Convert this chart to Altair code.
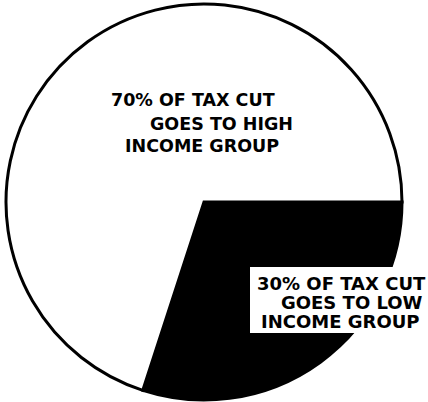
import math
import altair as alt
import pandas as pd

# Data
groups = ["Low income group", "High income group"]
shares = [30, 70]
slice_order = [0, 1]
slice_colors = ["#000000", "#ffffff"]

high_label = ["70% OF TAX CUT", "GOES TO HIGH", "INCOME GROUP"]
low_label = ["30% OF TAX CUT", "GOES TO LOW", "INCOME GROUP"]

df = pd.DataFrame({"group": groups, "share": shares, "order": slice_order})

W, H = 428, 402
CX, CY, R = 204, 202, 198
FONT = "DejaVu Sans"

pie = alt.Chart(df).mark_arc(
    outerRadius=R, stroke="#000000", strokeWidth=3
).encode(
    theta=alt.Theta("share:Q", stack=True,
                    scale=alt.Scale(range=[math.pi / 2, math.pi / 2 + 2 * math.pi])),
    color=alt.Color("group:N", scale=alt.Scale(domain=groups, range=slice_colors), legend=None),
    order=alt.Order("order:Q"),
    x=alt.value(CX),
    y=alt.value(CY),
)

box = alt.Chart(pd.DataFrame({"k": [0]})).mark_rect(fill="#ffffff", stroke=None).encode(
    x=alt.value(250), x2=alt.value(W + 5), y=alt.value(267), y2=alt.value(333)
)

def text_layer(txt, x, y, size):
    return alt.Chart(pd.DataFrame({"t": [txt]})).mark_text(
        align="left", baseline="alphabetic", font=FONT, fontWeight="bold",
        fontSize=size, color="#000000"
    ).encode(text="t:N", x=alt.value(x), y=alt.value(y))

high_pos = [(111, 106), (150, 130), (125, 152)]
low_pos = [(257, 290), (281, 309), (261, 328)]

layers = [pie, box]
for t, (x, y) in zip(high_label, high_pos):
    layers.append(text_layer(t, x, y, 17.5))
for t, (x, y) in zip(low_label, low_pos):
    layers.append(text_layer(t, x, y, 18))

chart = alt.layer(*layers).properties(
    width=W, height=H, padding=0, autosize=alt.AutoSizeParams(type="none"),
    background="#ffffff"
).configure_view(stroke=None)

chart.save("out.html", embed_options={"renderer": "svg", "actions": False})
